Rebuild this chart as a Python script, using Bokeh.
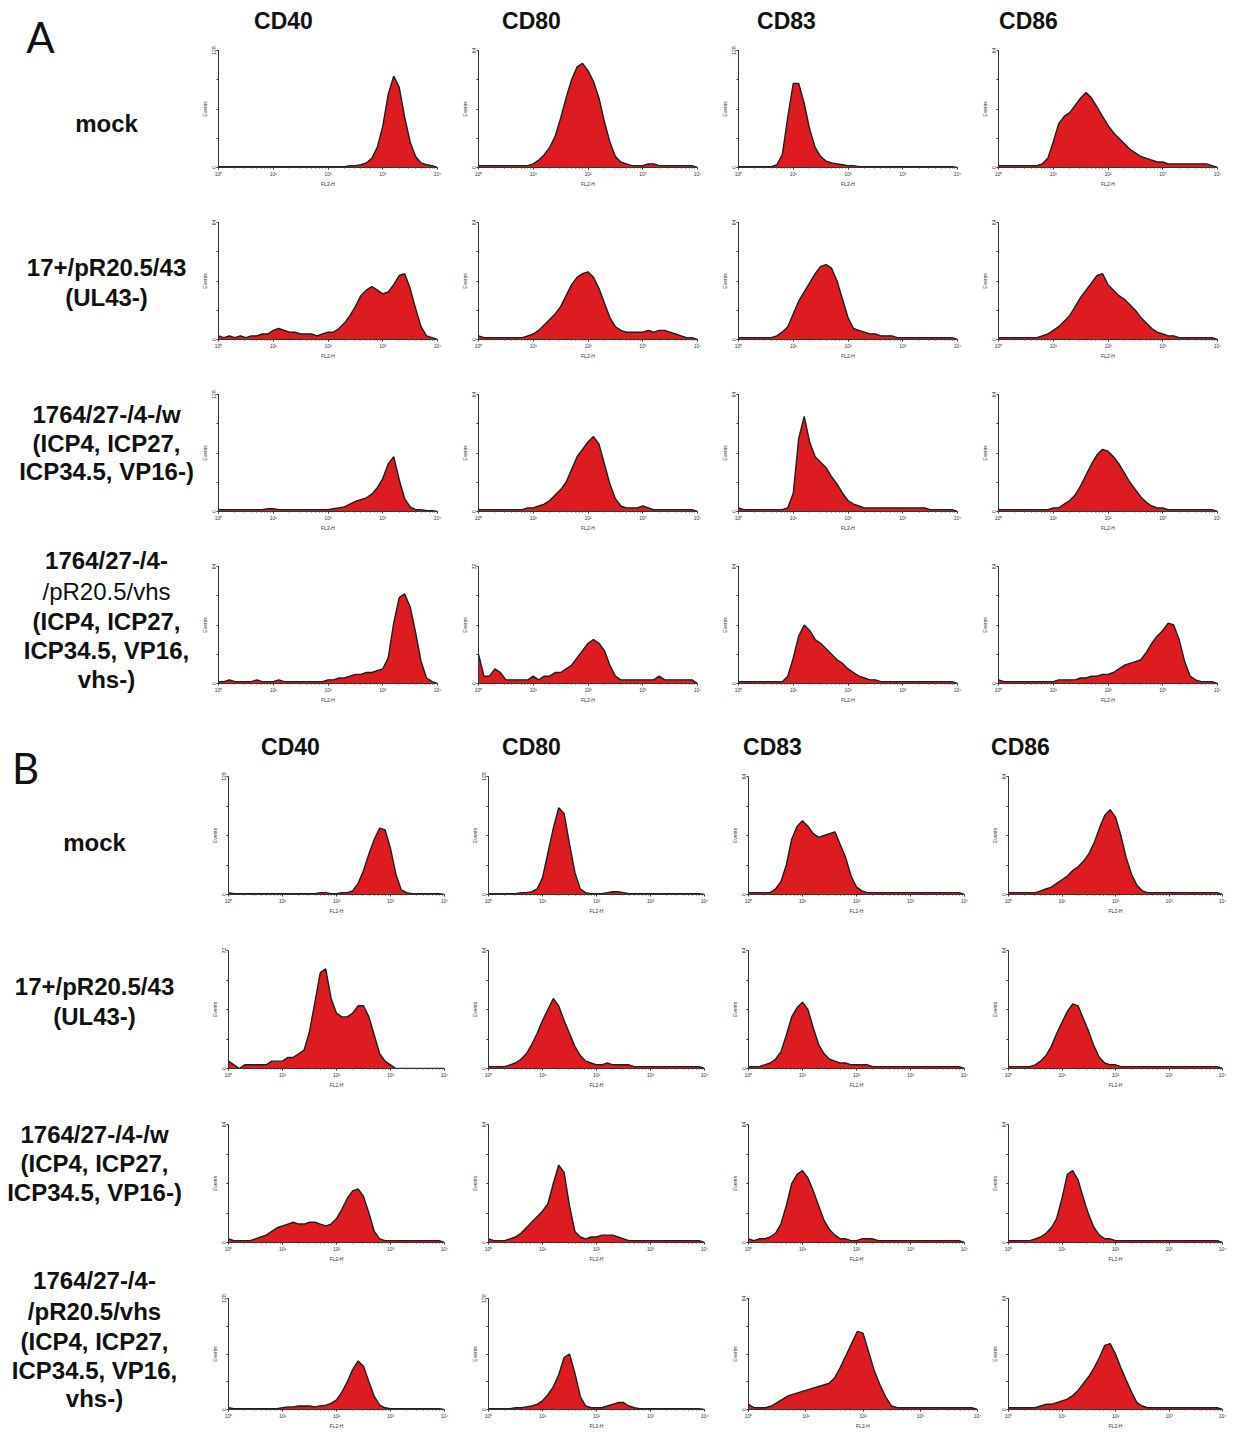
from bokeh.plotting import figure
from bokeh.layouts import row, column
from bokeh.models import Range1d, FixedTicker, ColumnDataSource
from bokeh.core.properties import value
from bokeh.embed import file_html
from bokeh.resources import INLINE

# ---------------- data ----------------
# histogram channels: FL2-H at 0.1-decade steps from 10^0 to 10^4
DECADES = [i / 10 for i in range(41)]
FL2_H = [10 ** d for d in DECADES]

MARKERS = ["CD40", "CD80", "CD83", "CD86"]
X_TICKS = [1, 10, 100, 1000, 10000]
X_TICK_LABELS = ["10\u2070", "10\u00b9", "10\u00b2", "10\u00b3", "10\u2074"]

# Panel A, events per channel
A_mock_CD40 = [1,1,1,1,1,1,1,1,1,1, 1,1,1,1,1,1,1,1,1,1, 1,1,1,1,2,2,3,5,10,22, 45,80,100,88,55,28,12,5,3,2, 0]
A_mock_CD80 = [1,1,1,1,1,1,1,1,1,1, 2,4,7,11,17,27,38,48,55,57, 53,47,38,25,14,6,3,2,1,1, 1,2,2,1,1,1,1,1,1,1, 0]
A_mock_CD83 = [1,1,1,1,1,1,1,3,14,55, 92,92,70,42,22,12,7,5,4,3, 2,2,1,1,1,1,1,1,1,1, 1,1,1,1,1,1,1,1,1,1, 0]
A_mock_CD86 = [1,1,1,1,1,1,1,1,2,5, 14,24,28,30,34,38,41,38,33,28, 23,19,16,13,10,8,6,5,4,3, 3,2,2,2,2,2,2,2,2,1, 0]

A_ul43_CD40 = [2,1,2,1,2,1,2,2,3,3, 5,6,5,4,4,3,3,3,2,3, 4,4,6,9,13,18,24,27,29,27, 25,26,30,35,36,28,17,7,2,1, 0]
A_ul43_CD80 = [2,1,1,1,1,1,1,1,1,2, 3,5,8,11,14,18,24,30,34,36, 37,34,28,20,12,7,5,4,4,4, 4,5,4,5,5,4,3,2,1,1, 0]
A_ul43_CD83 = [1,1,1,1,1,1,1,2,4,7, 14,21,26,31,36,40,41,39,32,22, 12,6,5,4,3,3,2,2,2,1, 1,1,1,1,1,1,1,1,1,1, 0]
A_ul43_CD86 = [1,1,1,1,1,1,1,1,2,3, 5,7,10,13,18,23,27,31,35,36, 30,27,24,22,19,16,12,9,6,4, 3,2,2,1,1,1,1,1,1,1, 0]

A_w_CD40 = [2,2,2,2,2,2,2,2,2,3, 3,2,2,2,2,2,2,2,2,2, 2,3,4,5,8,11,13,15,19,26, 36,52,60,35,14,5,2,2,1,1, 0]
A_w_CD80 = [1,1,1,1,1,1,1,1,1,2, 2,3,4,6,9,12,16,23,30,34, 38,41,37,26,15,7,3,2,2,2, 3,2,1,1,1,1,1,1,1,1, 0]
A_w_CD83 = [2,1,1,1,1,1,1,1,1,2, 10,40,52,38,30,27,24,19,15,10, 6,4,3,2,2,2,2,2,2,2, 2,2,2,2,2,1,1,1,1,1, 0]
A_w_CD86 = [1,1,1,1,1,1,1,1,1,1, 2,2,4,6,9,14,20,26,31,34, 33,30,26,21,16,12,8,5,3,2, 2,1,1,1,1,1,1,1,1,1, 0]

A_vhs_CD40 = [1,1,2,1,1,1,1,2,1,1, 1,2,1,1,1,1,1,1,1,1, 2,2,3,3,4,5,5,6,6,7, 8,14,33,47,49,42,28,12,3,1, 0]
A_vhs_CD80 = [8,2,2,4,3,1,1,1,1,1, 2,1,2,2,3,3,4,5,7,9, 11,12,11,9,5,2,1,1,1,1, 1,1,1,2,1,1,1,1,1,1, 0]
A_vhs_CD83 = [1,1,1,1,1,1,1,1,1,4, 14,26,32,29,24,22,19,16,13,11, 8,6,4,3,2,2,1,1,1,1, 1,1,1,1,1,1,1,1,1,1, 0]
A_vhs_CD86 = [2,1,1,1,1,1,1,1,1,1, 1,2,2,2,2,3,3,4,4,5, 5,6,8,10,11,12,13,17,22,26, 29,33,32,24,12,4,2,1,1,1, 0]

# Panel B, events per channel
B_mock_CD40 = [2,1,1,1,1,1,1,1,1,1, 1,1,1,1,1,1,1,2,2,1, 1,2,2,4,12,26,44,60,72,70, 50,22,5,2,1,1,1,1,1,1, 0]
B_mock_CD80 = [1,1,1,1,1,1,2,2,3,6, 18,45,72,94,88,55,24,6,2,1, 1,1,2,3,3,2,1,1,1,1, 1,1,1,1,1,1,1,1,1,1, 0]
B_mock_CD83 = [1,1,1,1,1,3,7,16,30,37, 40,37,33,31,32,33,34,27,20,10, 4,2,1,1,1,1,1,1,1,1, 1,1,1,1,1,1,1,1,1,1, 0]
B_mock_CD86 = [1,1,1,1,1,1,2,3,4,6, 8,10,13,15,18,22,28,36,43,46, 42,32,20,11,5,2,1,1,1,1, 1,1,1,1,1,1,1,1,1,1, 0]

B_ul43_CD40 = [2,1,0,1,1,1,1,1,2,2, 2,3,3,4,5,10,18,26,27,19, 15,14,14,15,17,17,14,9,4,2, 1,0,0,0,0,0,0,0,0,0, 0]
B_ul43_CD80 = [1,1,1,1,2,3,5,8,13,19, 26,32,38,34,26,19,12,7,4,3, 2,2,3,2,2,2,2,1,1,1, 1,1,1,1,1,1,1,1,1,1, 0]
B_ul43_CD83 = [1,1,1,2,3,5,9,18,28,33, 36,32,22,13,8,5,4,3,3,2, 2,2,2,1,1,1,1,1,1,1, 1,1,1,1,1,1,1,1,1,1, 0]
B_ul43_CD86 = [1,1,1,1,1,2,4,7,12,19, 25,31,35,34,27,20,12,6,3,2, 2,1,1,1,1,1,1,1,1,1, 1,1,1,1,1,1,1,1,1,1, 0]

B_w_CD40 = [2,1,1,1,1,2,3,4,6,8, 9,10,11,10,10,11,11,10,9,10, 13,18,24,28,29,25,16,6,2,1, 1,1,1,1,1,1,1,1,1,1, 0]
B_w_CD80 = [2,1,1,1,2,3,5,8,11,14, 17,21,32,42,38,20,6,3,2,3, 3,4,4,4,3,2,1,1,1,1, 1,1,1,1,1,1,1,1,1,1, 0]
B_w_CD83 = [2,1,2,2,3,5,10,20,32,37, 39,35,28,20,12,7,4,2,2,1, 1,2,2,2,1,1,1,1,1,1, 1,1,1,1,1,1,1,1,1,1, 0]
B_w_CD86 = [1,1,1,1,1,2,3,5,8,13, 24,37,39,34,24,15,8,4,2,2, 1,1,1,1,1,1,1,1,1,1, 1,1,1,1,1,1,1,1,1,1, 0]

B_vhs_CD40 = [2,1,1,1,1,1,1,1,1,1, 2,3,3,4,4,4,3,4,5,7, 11,20,32,46,56,50,32,15,5,2, 1,1,1,1,1,1,1,1,1,1, 0]
B_vhs_CD80 = [1,1,1,1,1,2,2,3,4,6, 10,17,26,40,60,64,42,15,4,2, 2,2,4,6,8,8,4,2,1,1, 1,1,1,1,1,1,1,1,1,1, 0]
B_vhs_CD83 = [3,1,1,1,2,4,6,8,9,10, 11,12,13,14,15,18,24,31,38,45, 44,33,22,14,7,2,1,1,1,1, 1,1,1,1,1,1,1,1,1,1, 0]
B_vhs_CD86 = [1,1,1,1,1,1,2,3,3,4, 5,6,8,11,15,19,24,30,37,38, 32,24,17,10,4,2,1,1,1,1, 1,1,1,1,1,1,1,1,1,1, 0]

# y-axis maxima (Events) per panel
A_YMAX = [[128, 64, 128, 64], [64, 64, 64, 64], [128, 64, 64, 64], [64, 32, 64, 64]]
B_YMAX = [[128, 128, 64, 64], [32, 64, 64, 64], [64, 64, 64, 64], [128, 128, 64, 64]]

A_DATA = [[A_mock_CD40, A_mock_CD80, A_mock_CD83, A_mock_CD86],
          [A_ul43_CD40, A_ul43_CD80, A_ul43_CD83, A_ul43_CD86],
          [A_w_CD40, A_w_CD80, A_w_CD83, A_w_CD86],
          [A_vhs_CD40, A_vhs_CD80, A_vhs_CD83, A_vhs_CD86]]
B_DATA = [[B_mock_CD40, B_mock_CD80, B_mock_CD83, B_mock_CD86],
          [B_ul43_CD40, B_ul43_CD80, B_ul43_CD83, B_ul43_CD86],
          [B_w_CD40, B_w_CD80, B_w_CD83, B_w_CD86],
          [B_vhs_CD40, B_vhs_CD80, B_vhs_CD83, B_vhs_CD86]]

# row labels: (text, y-position in page pixels, bold)
A_ROW_LABELS = [("mock", 123, True),
                ("17+/pR20.5/43", 267, True), ("(UL43-)", 297, True),
                ("1764/27-/4-/w", 414, True), ("(ICP4, ICP27,", 443, True), ("ICP34.5, VP16-)", 471, True),
                ("1764/27-/4-", 560, True), ("/pR20.5/vhs", 591, False), ("(ICP4, ICP27,", 621, True),
                ("ICP34.5, VP16,", 650, True), ("vhs-)", 679, True)]
B_ROW_LABELS = [("mock", 842, True),
                ("17+/pR20.5/43", 986, True), ("(UL43-)", 1016, True),
                ("1764/27-/4-/w", 1134, True), ("(ICP4, ICP27,", 1163, True), ("ICP34.5, VP16-)", 1192, True),
                ("1764/27-/4-", 1280, True), ("/pR20.5/vhs", 1311, True), ("(ICP4, ICP27,", 1341, True),
                ("ICP34.5, VP16,", 1370, True), ("vhs-)", 1398, True)]

# ---------------- styling ----------------
RED = "#dc1c20"
EDGE = "#1e1e1e"
FONT = "Liberation Sans"
MINOR = [m * 10 ** k for k in range(4) for m in range(2, 10)]


def blank(w, h, xr, yr):
    p = figure(width=w, height=h, x_range=Range1d(*xr), y_range=Range1d(*yr),
               x_axis_location=None, y_axis_location=None,
               output_backend="svg", toolbar_location=None, tools="",
               min_border=0)
    p.outline_line_color = None
    p.grid.visible = False
    return p


def panel(counts, ymax, fw, br, bt, fh, bb):
    p = figure(width=25 + fw + br, height=bt + fh + bb, x_axis_type="log",
               x_range=Range1d(1, 10000), y_range=Range1d(0, ymax),
               min_border_left=25, min_border_right=br, min_border_top=bt, min_border_bottom=bb,
               output_backend="svg", toolbar_location=None, tools="")
    p.outline_line_color = None
    p.grid.visible = False
    src = ColumnDataSource(dict(x=FL2_H, n=counts))
    p.varea(x="x", y1=0, y2="n", source=src, fill_color=RED)
    p.line(x="x", y="n", source=src, line_color=EDGE, line_width=1.4)

    xa = p.xaxis[0]
    xa.ticker = FixedTicker(ticks=X_TICKS, minor_ticks=MINOR)
    xa.major_label_overrides = dict(zip(X_TICKS, X_TICK_LABELS))
    xa.axis_label = "FL2-H"
    ya = p.yaxis[0]
    q = [0, ymax / 4, ymax / 2, 3 * ymax / 4, ymax]
    ya.ticker = FixedTicker(ticks=q)
    ya.major_label_overrides = {q[1]: "", q[2]: "", q[3]: ""}
    ya.major_label_orientation = "vertical"
    ya.axis_label = "Events"
    for ax in (xa, ya):
        ax.axis_line_color = "#333333"
        ax.major_tick_line_color = "#333333"
        ax.minor_tick_line_color = "#555555"
        ax.major_tick_out = 2
        ax.major_tick_in = 0
        ax.minor_tick_out = 1
        ax.minor_tick_in = 0
        ax.major_label_text_font = FONT
        ax.major_label_text_font_size = "5px"
        ax.major_label_text_color = "#333333"
        ax.major_label_text_line_height = 1.0
        ax.major_label_standoff = 1
        ax.axis_label_text_font = FONT
        ax.axis_label_text_font_size = "5px"
        ax.axis_label_text_font_style = "normal"
        ax.axis_label_text_color = "#333333"
        ax.axis_label_text_line_height = 1.0
        ax.axis_label_standoff = 1
    return p


def labels_fig(w, h, y0, letter, letter_xy, rows, cx):
    p = blank(w, h, (0, w), (y0 + h, y0))
    p.text(x=[letter_xy[0]], y=[letter_xy[1]], text=[letter], text_font=value("Lato"),
           text_font_size="42px", text_align="center", text_baseline="middle", text_color="#111111")
    bold = [r for r in rows if r[2]]
    norm = [r for r in rows if not r[2]]
    p.text(x=[cx] * len(bold), y=[r[1] for r in bold], text=[r[0] for r in bold],
           text_font=value(FONT), text_font_style="bold", text_font_size="24px",
           text_align="center", text_baseline="middle", text_color="#111111")
    if norm:
        p.text(x=[cx] * len(norm), y=[r[1] for r in norm], text=[r[0] for r in norm],
               text_font=value(FONT), text_font_style="normal", text_font_size="24px",
               text_align="center", text_baseline="middle", text_color="#111111")
    return p


def header_fig(w, h, x0, y0, xs, ty):
    p = blank(w, h, (x0, x0 + w), (y0 + h, y0))
    p.text(x=xs, y=[ty] * 4, text=MARKERS, text_font=value(FONT), text_font_style="bold",
           text_font_size="23px", text_align="center", text_baseline="middle", text_color="#111111")
    return p


# ---------------- section A ----------------
A_LABEL_W = 193
A_HEAD_H = 42
a_rows = []
for r in range(4):
    cells = []
    for c in range(4):
        cells.append(panel(A_DATA[r][c], A_YMAX[r][c], 219, 12 if c == 3 else 16, 8, 117, 47))
    a_rows.append(row(cells, spacing=0))
a_head = header_fig(3 * 260 + 256, A_HEAD_H, A_LABEL_W, 0, [283, 531, 786, 1028], 20)
a_lab = labels_fig(A_LABEL_W, A_HEAD_H + 4 * 172, 0, "A", (40, 36), A_ROW_LABELS, 106)
sec_a = row([a_lab, column([a_head] + a_rows, spacing=0)], spacing=0)

# ---------------- section B ----------------
B_LABEL_W = 203
B_TOP = A_HEAD_H + 4 * 172
B_HEAD_H = 38
b_rows = []
for r in range(4):
    cells = []
    bb = 15 if r == 3 else 48
    for c in range(4):
        if c == 3:
            fw, br = 214, 8
        elif r == 3 and c == 2:
            fw, br = 229, 6
        else:
            fw, br = 216, 19
        cells.append(panel(B_DATA[r][c], B_YMAX[r][c], fw, br, 8, 118, bb))
    b_rows.append(row(cells, spacing=0))
b_head = header_fig(3 * 260 + 247, B_HEAD_H, B_LABEL_W, B_TOP, [290, 531, 772, 1020], 746)
b_lab = labels_fig(B_LABEL_W, B_HEAD_H + 3 * 174 + 141, B_TOP, "B", (25, 767), B_ROW_LABELS, 94)
sec_b = row([b_lab, column([b_head] + b_rows, spacing=0)], spacing=0)

page = column([sec_a, sec_b], spacing=0)

open("out.html", "w").write(file_html(page, INLINE))
